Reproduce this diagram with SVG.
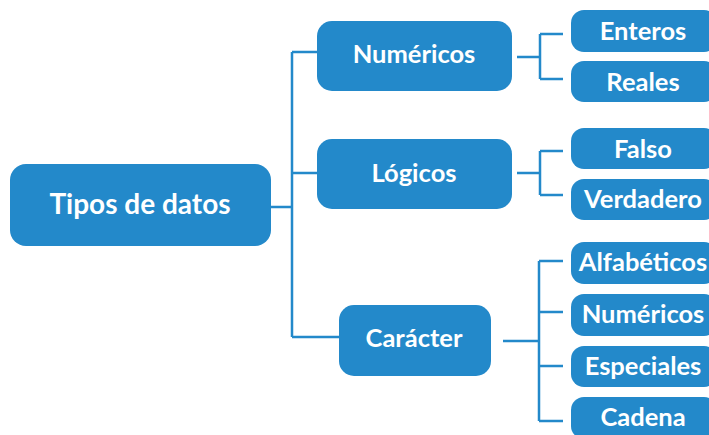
<svg xmlns="http://www.w3.org/2000/svg" width="709" height="435" viewBox="0 0 709 435">
  <style>
    .box { fill: #2389ca; }
    .lbl { fill: #ffffff; font-family: Lato, "Open Sans", "Liberation Sans", sans-serif; font-weight: 700; text-anchor: middle; }
    .l1 { font-size: 25.5px; }
    .l0 { font-size: 28px; }
    .wire { fill: none; stroke: #2389ca; stroke-width: 2.5; }
  </style>
  <rect width="709" height="435" fill="#ffffff"/>

  <g id="connectors">
    <path class="wire" d="M271 207 H292 M292 52 V337 M292 52 H317 M292 173 H317 M292 337 H339"/>
    <path class="wire" d="M517 57 H540 M540 34 V79 M540 34 H563 M540 79 H563"/>
    <path class="wire" d="M517 173 H540 M540 151 V195 M540 151 H563 M540 195 H563"/>
    <path class="wire" d="M503 341 H539 M539 261 V421 M539 261 H563 M539 312 H563 M539 366 H563 M539 421 H563"/>
  </g>

  <g id="tipos-de-datos">
    <rect class="box" x="10" y="164" width="261" height="82" rx="16"/>
    <text class="lbl l0" x="140" y="214">Tipos de datos</text>
  </g>

  <g id="numericos">
    <rect class="box" x="317" y="21" width="195" height="70" rx="15"/>
    <text class="lbl l1" x="414" y="63">Numéricos</text>
  </g>
  <g id="logicos">
    <rect class="box" x="317" y="139" width="195" height="70" rx="15"/>
    <text class="lbl l1" x="414" y="182">Lógicos</text>
  </g>
  <g id="caracter">
    <rect class="box" x="339" y="305" width="152" height="71" rx="15"/>
    <text class="lbl l1" x="414" y="347">Carácter</text>
  </g>

  <g id="enteros">
    <rect class="box" x="571" y="10" width="146" height="42" rx="13"/>
    <text class="lbl l1" x="643" y="40">Enteros</text>
  </g>
  <g id="reales">
    <rect class="box" x="571" y="61" width="146" height="41" rx="13"/>
    <text class="lbl l1" x="643" y="91">Reales</text>
  </g>
  <g id="falso">
    <rect class="box" x="571" y="128" width="146" height="41" rx="13"/>
    <text class="lbl l1" x="643" y="158">Falso</text>
  </g>
  <g id="verdadero">
    <rect class="box" x="571" y="179" width="146" height="41" rx="13"/>
    <text class="lbl l1" x="643" y="208">Verdadero</text>
  </g>
  <g id="alfabeticos">
    <rect class="box" x="571" y="242" width="146" height="42" rx="13"/>
    <text class="lbl l1" x="643" y="271">Alfabéticos</text>
  </g>
  <g id="numericos-car">
    <rect class="box" x="571" y="294" width="146" height="42" rx="13"/>
    <text class="lbl l1" x="643" y="323">Numéricos</text>
  </g>
  <g id="especiales">
    <rect class="box" x="571" y="346" width="146" height="41" rx="13"/>
    <text class="lbl l1" x="643" y="375">Especiales</text>
  </g>
  <g id="cadena">
    <rect class="box" x="571" y="397" width="146" height="42" rx="13"/>
    <text class="lbl l1" x="643" y="426">Cadena</text>
  </g>
</svg>
